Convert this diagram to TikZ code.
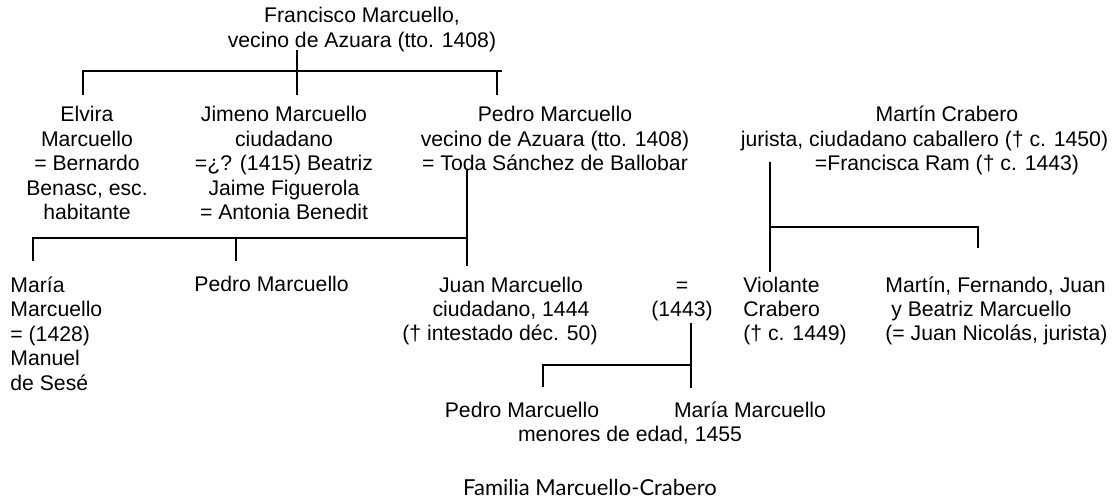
\documentclass[tikz,border=0pt]{standalone}
\usepackage{fontspec}
\setmainfont{Liberation Sans}
\newfontfamily\fuentepie{Lato}
\begin{document}
\begin{tikzpicture}[x=0.5pt, y=-0.5pt,
        persona/.style={anchor=base, align=center, inner sep=0pt, font=\fontsize{10.6}{12.25}\selectfont},
        personaizq/.style={persona, align=left, anchor=base west},
        linea/.style={line width=0.65pt}]
        \useasboundingbox (0,0) rectangle (1114,502);
        % Francisco Marcuello (base = última línea)
        \node[persona] (francisco) at (362,47.5) {Francisco Marcuello,\\vecino de Azuara (tto. 1408)};
        % Hijos de Francisco
        \node[persona] (elvira) at (87,220) {Elvira\\Marcuello\\= Bernardo\\Benasc, esc.\\habitante};
        \node[persona] (jimeno) at (284,220) {Jimeno Marcuello\\ciudadano\\=¿? (1415) Beatriz\\Jaime Figuerola\\= Antonia Benedit};
        \node[persona] (pedro) at (555,171) {Pedro Marcuello\\vecino de Azuara (tto. 1408)\\= Toda Sánchez de Ballobar};
        % Martín Crabero
        \node[persona] (martin) at (947,171) {Martín Crabero\\jurista, ciudadano caballero († c. 1450)\hbox to 22.5pt{}\\=Francisca Ram († c. 1443)};
        % Nietos
        \node[personaizq] (maria) at (10,390) {María\\Marcuello\\= (1428)\\Manuel\\de Sesé};
        \node[personaizq] (pedroh) at (194,292) {Pedro Marcuello};
        \node[persona] (juan) at (511,341) {Juan Marcuello\\ciudadano, 1444\\(† intestado déc. 50)\hspace*{11pt}};
        \node[persona] (boda) at (682,316.5) {=\\(1443)};
        \node[personaizq] (violante) at (743,341) {Violante\\Crabero\\(† c. 1449)};
        \node[personaizq] (hermanos) at (885,341) {Martín, Fernando, Juan\\\ y Beatriz Marcuello\\(= Juan Nicolás, jurista)};
        % Bisnietos
        \node[persona] (pedron) at (522,417) {Pedro Marcuello};
        \node[persona] (marian) at (750,417) {María Marcuello};
        \node[persona] (menores) at (630,441) {menores de edad, 1455};
        % Pie
        \node[anchor=base, inner sep=0pt, font=\fuentepie\fontsize{11}{13}\selectfont] (titulo) at (590,495) {Familia Marcuello-Crabero};
        % Líneas de Francisco
        \coordinate (f-top) at (297,50);
        \coordinate (f-izq) at (83,71);
        \coordinate (f-der) at (502,71);
        \coordinate (elvira-top) at (83,95);
        \coordinate (jimeno-top) at (297,95);
        \coordinate (pedro-top) at (497,95);
        \draw[linea] (elvira-top) -- (f-izq) -- (f-der);
        \draw[linea] (f-top) -- (jimeno-top);
        \draw[linea] (f-izq -| pedro-top) -- (pedro-top);
        % Líneas de Pedro
        \coordinate (p-top) at (467,170);
        \coordinate (p-bot) at (467,266);
        \coordinate (p-izq) at (33,238);
        \coordinate (maria-top) at (33,261);
        \coordinate (pedroh-top) at (236,261);
        \draw[linea] (p-top) -- (p-bot);
        \draw[linea] (maria-top) -- (p-izq) -- (p-izq -| p-top);
        \draw[linea] (p-izq -| pedroh-top) -- (pedroh-top);
        % Líneas de Juan y Violante
        \coordinate (b-top) at (691,323);
        \coordinate (b-bot) at (691,388);
        \coordinate (b-izq) at (543,365);
        \coordinate (pedron-top) at (543,387);
        \draw[linea] (b-top) -- (b-bot);
        \draw[linea] (pedron-top) -- (b-izq) -- (b-izq -| b-top);
        % Líneas de Martín Crabero
        \coordinate (c-top) at (770,162);
        \coordinate (c-bot) at (770,272);
        \coordinate (c-der) at (978,227);
        \coordinate (hermanos-top) at (978,248);
        \draw[linea] (c-top) -- (c-bot);
        \draw[linea] (c-der -| c-top) -- (c-der) -- (hermanos-top);
\end{tikzpicture}
\end{document}
